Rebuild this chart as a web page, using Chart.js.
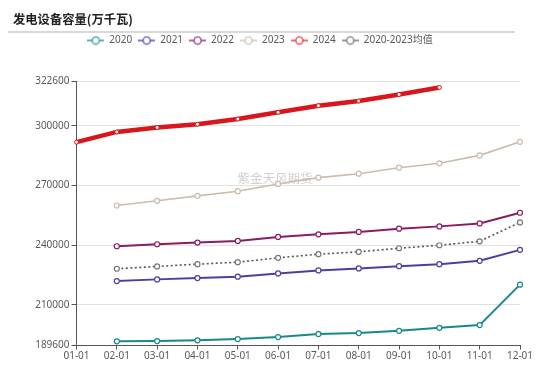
<!DOCTYPE html>
<html><head><meta charset="utf-8">
<script src="https://cdn.jsdelivr.net/npm/chart.js@4/dist/chart.umd.min.js"></script>
<style>
html,body{margin:0;padding:0;background:#fff;}
#wrap{position:relative;width:550px;height:365px;overflow:hidden;}
#title{position:absolute;left:13px;top:11px;font:bold 12.3px "Noto Sans CJK SC",sans-serif;color:#222;z-index:2;line-height:16px;}
#rule{position:absolute;left:8px;top:31px;width:507px;height:2px;background:#d9d9d9;z-index:2;}
canvas{position:absolute;left:0;top:0;}
</style></head><body>
<div id="wrap"><div id="title">发电设备容量(万千瓦)</div><div id="rule"></div><canvas id="c" width="550" height="365"></canvas></div>
<script>
const categories = ['01-01','02-01','03-01','04-01','05-01','06-01','07-01','08-01','09-01','10-01','11-01','12-01'];
const yTicks = [189600, 210000, 240000, 270000, 300000, 322600];
const seriesNames = ['2020','2021','2022','2023','2024','2020-2023均值'];
const s2020 = [null,191700,191850,192200,192850,193850,195350,195850,197000,198500,199850,220200];
const s2021 = [null,222000,222850,223500,224200,225850,227350,228350,229500,230500,232200,237700];
const s2022 = [null,239500,240500,241350,242200,244200,245500,246700,248350,249500,251000,256350];
const s2023 = [null,260000,262350,264850,267200,270850,274000,276000,279000,281200,285200,292000];
const s2024 = [291850,297000,299200,300850,303500,306850,310200,312500,315850,319350,null,null];
const sAvg  = [null,228200,229350,230500,231500,233700,235500,236700,238500,240000,242000,251500];

const colors = ['#17898b','#4d3fa2','#8a1c5f','#cbbcab','#d9161c','#555555'];
const legendColors = ['#2f9d9e','#5d50b6','#973a78','#d3c5b6','#ec3b3b','#7a7a7a'];

function sym(color){
  const c=document.createElement('canvas'); c.width=17; c.height=10;
  const x=c.getContext('2d');
  x.strokeStyle=color; x.lineWidth=1.5;
  x.beginPath(); x.moveTo(0,5); x.lineTo(17,5); x.stroke();
  x.beginPath(); x.arc(8.5,5,3.6,0,Math.PI*2); x.fillStyle='#fff'; x.fill(); x.lineWidth=1.3; x.stroke();
  return c;
}
const syms = legendColors.map(sym);

function ds(label,data,i,extra){
  return Object.assign({label,data,borderColor:colors[i],backgroundColor:'#fff',
    pointBackgroundColor:'#fff',pointBorderColor:colors[i],pointRadius:2.5,pointBorderWidth:1.2,
    borderWidth:2,tension:0,spanGaps:false},extra||{});
}

const legendPad = {id:'legendPad', beforeUpdate(chart){
  const lg=chart.legend;
  if(lg && !lg._padPatched){ const f=lg.fit; lg.fit=function(){ f.call(this); this.height+=25.5; }; lg._padPatched=true; }
}};
const watermark = {id:'wm', beforeDatasetsDraw(chart){
  const ctx=chart.ctx; ctx.save();
  ctx.font='12.5px "Noto Sans CJK SC", sans-serif'; ctx.fillStyle='rgba(170,170,170,0.55)';
  ctx.textAlign='center'; ctx.textBaseline='middle';
  ctx.fillText('紫金天风期货',275,178); ctx.restore();
}};

const font = {family:'"Noto Sans", "Noto Sans CJK SC", sans-serif', size:10};

new Chart(document.getElementById('c'),{
  type:'line',
  data:{labels:categories,datasets:[
    ds(seriesNames[0],s2020,0),
    ds(seriesNames[1],s2021,1),
    ds(seriesNames[2],s2022,2),
    ds(seriesNames[3],s2023,3,{borderWidth:1.6}),
    ds(seriesNames[4],s2024,4,{borderWidth:4.5,pointRadius:2,pointBorderWidth:1}),
    ds(seriesNames[5],sAvg,5,{borderWidth:1.6,borderDash:[2,2.5],pointBorderColor:'#777'})
  ]},
  options:{
    responsive:false, animation:false,
    layout:{padding:{top:29.5,left:0,right:30,bottom:0}},
    plugins:{
      tooltip:{enabled:false},
      legend:{position:'top',labels:{
        font, color:'#595959', usePointStyle:true, pointStyleWidth:17, padding:6,
        generateLabels(chart){
          return chart.data.datasets.map((d,i)=>({text:d.label,pointStyle:syms[i],fillStyle:'rgba(0,0,0,0)',
            strokeStyle:'rgba(0,0,0,0)',lineWidth:0,hidden:false,datasetIndex:i,fontColor:'#595959'}));
        }
      }}
    },
    scales:{
      x:{offset:false,
        grid:{display:true,drawOnChartArea:false,drawTicks:true,tickLength:4,tickColor:'#555'},
        border:{color:'#555',width:1},
        ticks:{font,color:'#595959',padding:1,maxRotation:0,autoSkip:false},
        afterFit(s){ s.height=19.5; }
      },
      y:{min:189600,max:322600,
        afterBuildTicks(s){ s.ticks=yTicks.map(v=>({value:v})); },
        grid:{color:'#e0e0e0',tickColor:'#555',tickLength:5,lineWidth:1},
        border:{color:'#555',width:1},
        ticks:{font,color:'#595959',padding:2,callback:v=>String(v)},
        afterFit(s){ s.width=76.5; }
      }
    }
  },
  plugins:[legendPad,watermark]
});
</script>
</body></html>
